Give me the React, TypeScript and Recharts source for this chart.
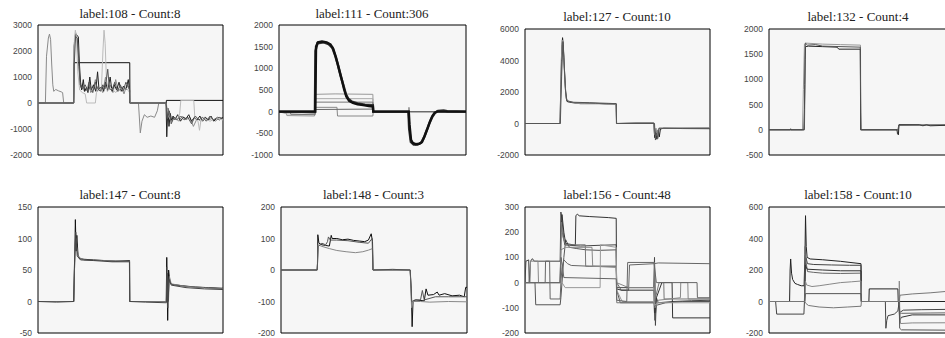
import React from 'react';
import { LineChart, Line, XAxis, YAxis, ReferenceArea } from 'recharts';

type Pt = [number, number];

// label:108 - Count:8
const t108 = [-2000, -1000, 0, 1000, 2000, 3000];
const s108a: Pt[] = [[0,0],[4,0],[4.6,1800],[5.6,2500],[6.2,2650],[6.8,2450],[7.4,1500],[8,700],[8.5,450],[9.6,520],[11,470],[12.5,430],[13.3,400],[13.9,0],[19.2,0],[19.6,2300],[20.4,2700],[21.2,2400],[22,1400],[23,600],[24,700],[25,450],[26.5,500],[27.5,800],[28.5,400],[30,550],[31,900],[32,450],[33.5,600],[35,400],[36.5,1000],[37.5,450],[39,700],[40.5,400],[42,900],[43.5,450],[45,600],[46.5,350],[48,700],[49.4,500],[49.6,0],[54.3,0],[55.3,-1150],[56.2,-700],[57.5,-450],[59,-550],[61,-500],[63,-550],[64.5,-300],[65.3,0],[69.2,0],[70,-400],[72,-650],[74,-550],[76,-700],[78,-500],[80,-650],[82,-550],[84,-900],[86,-600],[88,-700],[90,-550],[92,-650],[94,-600],[96,-700],[98,-550],[100,-600]];
const s108b: Pt[] = [[0,0],[19.3,0],[19.6,1550],[49.6,1550],[49.7,0],[69.3,0],[69.4,100],[100,100]];
const s108c: Pt[] = [[0,0],[19.3,0],[19.6,2200],[20.3,2650],[21,2600],[21.8,2550],[22.4,1500],[23,800],[23.6,500],[24.5,900],[25.2,450],[26.2,600],[27,400],[28,1000],[28.8,500],[30,700],[31.2,450],[32.2,1200],[33,500],[34.5,650],[35.5,450],[36.5,800],[37.8,500],[39,1000],[40,450],[41.2,700],[42.5,500],[43.8,800],[45,450],[46.2,650],[47.5,500],[48.8,900],[49.5,500],[49.6,0],[69.2,0],[69.6,-1300],[70.2,-200],[70.8,-900],[71.5,-400],[72.3,-700],[73,-500],[74,-650],[75.5,-450],[77,-700],[78.5,-550],[80,-600],[81.5,-450],[83,-700],[84.5,-550],[86,-650],[87.5,-500],[89,-700],[90.5,-550],[92,-650],[93.5,-500],[95,-700],[96.5,-600],[98,-650],[100,-550]];
const s108d: Pt[] = [[0,0],[19.3,0],[19.7,2500],[20.2,2800],[20.8,2500],[21.5,1200],[22.5,500],[24,400],[25.5,350],[26.3,0],[31,0],[31.6,400],[33,500],[34.3,600],[35.1,2000],[35.7,2800],[36.3,2300],[37,900],[38,500],[40,550],[42,400],[44,600],[46,500],[48,550],[49.6,400],[49.7,0],[69.3,0],[70.5,-500],[72,-700],[74,-600],[75.5,-650],[76.6,-400],[77.2,100],[84.2,100],[84.8,-600],[86.5,-700],[87.3,-1050],[88,-700],[90,-600],[93,-700],[96,-600],[100,-650]];
const s108e: Pt[] = [[0,0],[19.3,0],[19.6,1500],[20.3,2550],[21.2,2500],[22,1700],[22.8,700],[24,550],[25.5,700],[27,450],[28.3,650],[29.6,400],[31,800],[32.3,550],[33.7,450],[35,700],[36.3,550],[37.7,1300],[38.6,550],[40,500],[41.5,800],[43,450],[44.5,700],[46,450],[47.5,800],[49.5,550],[49.6,0],[69.3,0],[70,-600],[71,-300],[72,-800],[73.5,-550],[75,-650],[77,-500],[79,-650],[81,-550],[83,-800],[85,-500],[87,-650],[89,-550],[91,-700],[93,-500],[95,-650],[97,-550],[100,-600]];

// label:111 - Count:306
const t111 = [-1000, -500, 0, 500, 1000, 1500, 2000];
const s111a: Pt[] = [[0,0],[19.4,0],[19.8,1500],[20.8,1600],[23,1620],[25.5,1600],[27.5,1550],[29,1450],[30.5,1250],[32,1000],[33.5,750],[34.8,520],[36,350],[37.5,250],[39.5,200],[42,170],[45,150],[48,130],[50.2,120],[50.4,0],[69.4,0],[69.8,-300],[70.6,-650],[71.5,-720],[73,-750],[75,-740],[76.5,-700],[78,-550],[79.5,-380],[80.8,-220],[82,-100],[83.2,-30],[84.5,0],[100,0]];
const s111b: Pt[] = [[0,0],[19.2,0],[19.5,1400],[20.6,1580],[24,1600],[26.5,1560],[28.5,1480],[30,1300],[31.5,1080],[33,820],[34.5,600],[35.8,400],[37,300],[39,230],[42,190],[46,160],[50.2,150],[50.4,0],[69.2,0],[69.6,-400],[70.5,-700],[72,-760],[74,-760],[76,-720],[77.5,-600],[79,-430],[80.5,-260],[82,-120],[83.5,-20],[85,20],[88,30],[90,10],[100,0]];
const s111c: Pt[] = [[0,0],[3.8,0],[4.2,-90],[19,-100],[19.5,400],[30,410],[50.2,400],[50.4,0],[100,0]];
const s111d: Pt[] = [[0,0],[4,-50],[12,-60],[19.3,-50],[19.6,300],[50.2,300],[50.4,0],[100,0]];
const s111e: Pt[] = [[0,0],[6,0],[6.3,-60],[19.4,-70],[19.6,220],[50.2,220],[50.4,0],[100,0]];
const s111f: Pt[] = [[0,0],[19.4,0],[19.6,100],[31,100],[31.3,-100],[50.2,-100],[50.4,0],[69.4,0],[69.5,100],[69.7,0],[100,0]];
const s111g: Pt[] = [[0,0],[19.4,-30],[19.6,50],[50.2,60],[50.4,0],[100,0]];

// label:127 - Count:10
const t127 = [-2000, 0, 2000, 4000, 6000];
const s127a: Pt[] = [[0,0],[18.9,0],[19.4,2500],[20,5000],[20.3,5450],[20.7,5000],[21.3,3500],[22,2000],[22.7,1400],[24,1350],[27,1300],[32,1300],[38,1280],[44,1250],[49.3,1250],[49.5,0],[60,30],[69.6,30],[70.1,-900],[70.7,-500],[71.3,-1000],[72,-400],[72.6,-850],[73.2,-350],[75,-300],[85,-320],[100,-330]];
const s127b: Pt[] = [[0,0],[19,0],[19.6,4000],[20.2,5300],[20.8,4500],[21.5,2800],[22.2,1600],[23.5,1400],[30,1250],[40,1250],[49.2,1200],[49.4,0],[69.6,50],[70,-700],[70.8,-300],[71.5,-800],[72.3,-300],[100,-280]];
const s127c: Pt[] = [[0,0],[19.1,0],[19.8,3000],[20.5,5200],[21,4200],[21.8,2200],[22.5,1450],[26,1350],[35,1320],[45,1280],[49.3,1260],[49.5,0],[70,0],[70.5,-1050],[71,-600],[71.8,-950],[72.5,-300],[100,-300]];

// label:132 - Count:4
const t132 = [-500, 0, 500, 1000, 1500, 2000];
const s132a: Pt[] = [[0,0],[18.7,0],[19.2,800],[19.8,1700],[20.5,1720],[30,1700],[40,1690],[51.1,1680],[51.3,350],[51.6,0],[72.3,0],[72.6,100],[100,90]];
const s132b: Pt[] = [[0,0],[12,0],[12.1,20],[12.3,0],[19.5,0],[19.8,400],[20,900],[20.2,1400],[20.4,1650],[22,1660],[30,1650],[38,1640],[39,1600],[51,1600],[51.2,0],[71.5,0],[71.8,-80],[72.3,-100],[72.6,100],[84,100],[86,80],[88,100],[90,80],[100,90]];
const s132c: Pt[] = [[0,0],[19.8,0],[20.3,1720],[21.5,1680],[26,1690],[30,1660],[51,1640],[51.3,0],[72,0],[72.5,90],[100,100]];

// label:147 - Count:8
const t147 = [-50, 0, 50, 100, 150];
const s147a: Pt[] = [[0,0],[19.3,0],[19.8,60],[20.2,130],[20.6,80],[21,105],[21.6,75],[22.4,68],[25,67],[30,66],[36,65],[42,64],[49.5,65],[49.6,0],[60,0],[69.3,0],[69.6,70],[70.1,-30],[70.6,50],[71.3,30],[72.5,27],[78,25],[85,23],[92,22],[100,21]];
const s147b: Pt[] = [[0,0],[19.4,0],[20,90],[20.5,100],[21,85],[22,70],[25,66],[35,65],[49.4,64],[49.6,0],[69.4,0],[69.9,55],[70.4,-10],[71,40],[72,28],[80,24],[90,22],[100,20]];
const s147c: Pt[] = [[0,0],[10,-1],[19.3,0],[19.6,50],[20.4,110],[21.2,72],[23,66],[30,65],[40,63],[49.5,63],[49.6,0],[58,-1],[69.4,-2],[69.8,45],[70.3,0],[70.9,35],[72,26],[80,22],[90,20],[100,19]];

// label:148 - Count:3
const t148 = [-200, -100, 0, 100, 200];
const s148a: Pt[] = [[0,0],[19.4,0],[19.6,20],[19.8,112],[20.4,85],[22,80],[24,78],[26,76],[27,110],[27.5,100],[30,100],[33,96],[36,98],[39,94],[42,92],[45,90],[47,95],[48.5,115],[49.2,90],[49.5,0],[60,2],[69.4,0],[70,-60],[70.5,-180],[71,-100],[72.5,-95],[77,-98],[78,-60],[79,-80],[82,-78],[84,-70],[85,-80],[88,-75],[92,-82],[96,-80],[98.5,-85],[99.3,-55],[100,-55]];
const s148b: Pt[] = [[0,0],[19.5,0],[20,80],[22,75],[26,68],[30,62],[35,58],[40,55],[44,58],[47,63],[49.2,68],[49.5,0],[69.5,0],[70.2,-120],[71,-100],[75,-100],[80,-102],[90,-100],[100,-101]];
const s148c: Pt[] = [[0,0],[19.5,0],[20,75],[22,85],[24,80],[25,90],[25.5,105],[26.5,95],[30,95],[36,93],[42,88],[47,85],[49,100],[49.4,0],[69.5,0],[70.3,-100],[72,-95],[75,-95],[76,-65],[77,-95],[83,-85],[90,-85],[100,-85]];

// label:156 - Count:48
const t156 = [-200, -100, 0, 100, 200, 300];
const s156a: Pt[] = [[0,0],[0.5,85],[2,90],[2.3,0],[3,85],[4,95],[5,85],[19,85],[19.4,280],[20,250],[20.8,180],[21.5,150],[24,148],[30,145],[40,148],[49.3,150],[49.5,-20],[69.6,-20],[70,100],[70.5,-170],[71,-60],[72,-80],[80,-75],[90,-72],[100,-70]];
const s156b: Pt[] = [[0,0],[5.4,0],[5.8,-88],[19,-88],[19.4,-60],[20,0],[21,100],[22,170],[24,140],[28,135],[33,130],[40,128],[49.3,130],[49.6,-30],[51.5,-80],[69.7,-80],[70.2,-150],[71,-90],[76,-80],[85,-75],[100,-75]];
const s156c: Pt[] = [[0,0],[10.9,0],[11.1,85],[13.3,85],[13.6,-65],[19,-65],[19.4,0],[20,60],[21,90],[23,75],[25,68],[35,65],[49.3,65],[49.6,0],[52,-30],[56,-30],[56.5,70],[69.7,75],[72,78],[100,75]];
const s156d: Pt[] = [[0,0],[19,0],[19.5,200],[20,270],[21,200],[22,155],[26,150],[27.2,148],[27.5,265],[28.3,272],[29.3,265],[35,262],[45,258],[49.3,255],[49.5,-25],[52,-30],[69.7,-30],[70.2,-120],[71,-60],[74,0],[79.5,0],[79.8,-140],[100,-140]];
const s156e: Pt[] = [[0,0],[19,0],[19.6,240],[20.5,180],[22,150],[32.6,150],[32.8,65],[49.3,65],[49.6,-80],[69.7,-80],[70,80],[70.5,-60],[72.5,0],[75,0],[75.2,-65],[100,-65]];
const s156f: Pt[] = [[0,0],[2.7,0],[3,85],[7,85],[7.3,0],[19,0],[19.4,130],[22,140],[36.2,140],[36.6,65],[49.3,60],[49.5,0],[56,-20],[69.7,-20],[70.3,-100],[72,-70],[84,-60],[84.2,0],[88,0],[88.2,-65],[100,-65]];
const s156g: Pt[] = [[0,0],[19,0],[19.4,20],[20,0],[21.7,-20],[40.6,-20],[40.8,150],[49.3,140],[49.6,-30],[52.5,-75],[69.7,-75],[70,-90],[72,-80],[100,-80]];
const s156h: Pt[] = [[0,0],[19,0],[19.5,100],[21,20],[49.3,15],[49.6,-70],[55,-75],[55.5,80],[69.7,80],[71,0],[93,0],[93.2,-60],[100,-60]];

// label:158 - Count:10
const t158 = [-200, 0, 200, 400, 600];
const s158a: Pt[] = [[0,0],[11.5,0],[11.8,200],[12.1,270],[12.6,180],[13.2,140],[14.5,115],[16,108],[18,100],[19.6,100],[20.1,300],[20.4,545],[20.8,350],[21.3,280],[23,270],[30,265],[40,255],[51.4,240],[51.6,0],[55.8,0],[56,80],[72,80],[72.2,0],[100,0]];
const s158b: Pt[] = [[0,0],[3.7,0],[4.3,-80],[19.5,-80],[19.8,0],[20.2,200],[20.6,280],[21.5,240],[25,235],[35,232],[45,230],[51.4,230],[51.6,0],[65,0],[65.3,-170],[65.8,-120],[66.5,-90],[70,-80],[72,-60],[72.5,-20],[72.7,0],[73,-70],[75,-55],[85,-52],[100,-50]];
const s158c: Pt[] = [[0,0],[19.8,0],[20.2,350],[20.7,250],[21.5,190],[25,185],[30,180],[40,178],[51.4,180],[51.6,0],[72.7,0],[72.9,-80],[74,-75],[90,-73],[100,-72]];
const s158d: Pt[] = [[0,0],[19.9,0],[20.3,230],[21.3,205],[30,200],[40,195],[51.4,195],[51.6,0],[72.6,0],[73,-120],[74,-100],[80,-85],[100,-85]];
const s158e: Pt[] = [[0,0],[20,0],[20.3,130],[21,105],[24,95],[28,100],[34,110],[40,120],[46,125],[51.4,130],[51.6,0],[72.7,0],[72.8,130],[73,-30],[73.5,-140],[80,-136],[100,-135]];
const s158f: Pt[] = [[0,0],[20,0],[20.3,50],[51.4,50],[51.6,0],[72.7,0],[73,-170],[74,-180],[100,-182]];
const s158g: Pt[] = [[0,0],[20,0],[20.4,-10],[22,-25],[28,-35],[36,-40],[44,-35],[51.4,-30],[51.6,0],[72.7,0],[73.2,40],[80,48],[90,55],[100,65]];

// line styles
const c108 = ['#8a8a8a', '#111', '#222', '#bbb', '#555'];
const c111 = ['#999', '#aaa', '#777', '#888', '#666', '#333', '#111'];
const c127 = ['#222', '#888', '#555'];
const c132 = ['#999', '#222', '#555'];
const c147 = ['#111', '#777', '#444'];
const c148 = ['#111', '#888', '#555'];
const c156 = ['#444', '#555', '#666', '#333', '#777', '#888', '#999', '#666'];
const c158 = ['#222', '#444', '#666', '#333', '#888', '#555', '#777'];

const panels = [
  { title: 'label:108 - Count:8', lines: [s108a, s108b, s108c, s108d, s108e], colors: c108, ticks: t108, box: [38, 25, 222, 155], titleY: 14 },
  { title: 'label:111 - Count:306', lines: [s111c, s111d, s111e, s111f, s111g, s111b, s111a], colors: c111, ticks: t111, box: [279, 25, 465, 155], titleY: 14, thick: true },
  { title: 'label:127 - Count:10', lines: [s127a, s127b, s127c], colors: c127, ticks: t127, box: [525, 29, 709, 155], titleY: 16.5 },
  { title: 'label:132 - Count:4', lines: [s132a, s132b, s132c], colors: c132, ticks: t132, box: [769, 29, 947, 155], titleY: 16.5 },
  { title: 'label:147 - Count:8', lines: [s147a, s147b, s147c], colors: c147, ticks: t147, box: [38, 207, 222, 333], titleY: 194.5 },
  { title: 'label:148 - Count:3', lines: [s148a, s148b, s148c], colors: c148, ticks: t148, box: [281, 207, 466, 333], titleY: 194.5 },
  { title: 'label:156 - Count:48', lines: [s156a, s156b, s156c, s156d, s156e, s156f, s156g, s156h], colors: c156, ticks: t156, box: [525, 207, 709, 333], titleY: 194.5 },
  { title: 'label:158 - Count:10', lines: [s158a, s158b, s158c, s158d, s158e, s158f, s158g], colors: c158, ticks: t158, box: [769, 207, 947, 333], titleY: 194.5 },
];

const AXIS_W = 40;
const PAD = 4;

const Panel = ({ p }: { p: (typeof panels)[number] }) => {
  const [l, t, r, b] = p.box;
  const w = r - l;
  const h = b - t;
  const lo = p.ticks[0];
  const hi = p.ticks[p.ticks.length - 1];
  return (
    <>
      <div
        style={{
          position: 'absolute',
          left: l,
          width: w,
          top: p.titleY - 8,
          lineHeight: '16px',
          textAlign: 'center',
          fontFamily: '"Liberation Serif", "Times New Roman", serif',
          fontSize: 13,
          color: '#222',
          whiteSpace: 'nowrap',
        }}
      >
        {p.title}
      </div>
      <div style={{ position: 'absolute', left: l - AXIS_W, top: t - PAD }}>
        <LineChart
          width={AXIS_W + w + PAD}
          height={h + 2 * PAD}
          margin={{ top: PAD, right: PAD - 1, bottom: PAD, left: 0 }}
        >
          <XAxis type="number" dataKey="x" domain={[0, 100]} hide allowDataOverflow />
          <YAxis
            type="number"
            domain={[lo, hi]}
            ticks={p.ticks}
            interval={0}
            width={AXIS_W}
            allowDataOverflow
            axisLine={false}
            tickLine={false}
            tickSize={3}
            tickMargin={3}
            tick={{ fontSize: 8.5, fill: '#444', fontFamily: '"Liberation Sans", Arial, sans-serif' }}
          />
          <YAxis
            yAxisId="r"
            orientation="right"
            type="number"
            domain={[lo, hi]}
            ticks={p.ticks}
            interval={0}
            width={1}
            mirror
            axisLine={false}
            tickSize={3}
            tickLine={{ stroke: '#000' }}
            tick={() => <g />}
          />
          <ReferenceArea x1={0} x2={100} y1={lo} y2={hi} fill="#f6f6f6" fillOpacity={1} stroke="#000" strokeWidth={1} />
          {p.lines.map((pts, i) => (
            <Line
              key={i}
              data={pts.map(([x, y]) => ({ x, y }))}
              dataKey="y"
              type="linear"
              dot={false}
              activeDot={false}
              stroke={p.colors[i]}
              strokeWidth={p.thick && i >= p.lines.length - 2 ? 2.4 : 1}
              isAnimationActive={false}
            />
          ))}
        </LineChart>
      </div>
    </>
  );
};

export default function App() {
  return (
    <div style={{ position: 'absolute', left: 0, top: 0, width: 945, height: 338, overflow: 'hidden', background: '#fff' }}>
      {panels.map((p) => (
        <Panel key={p.title} p={p} />
      ))}
    </div>
  );
}
